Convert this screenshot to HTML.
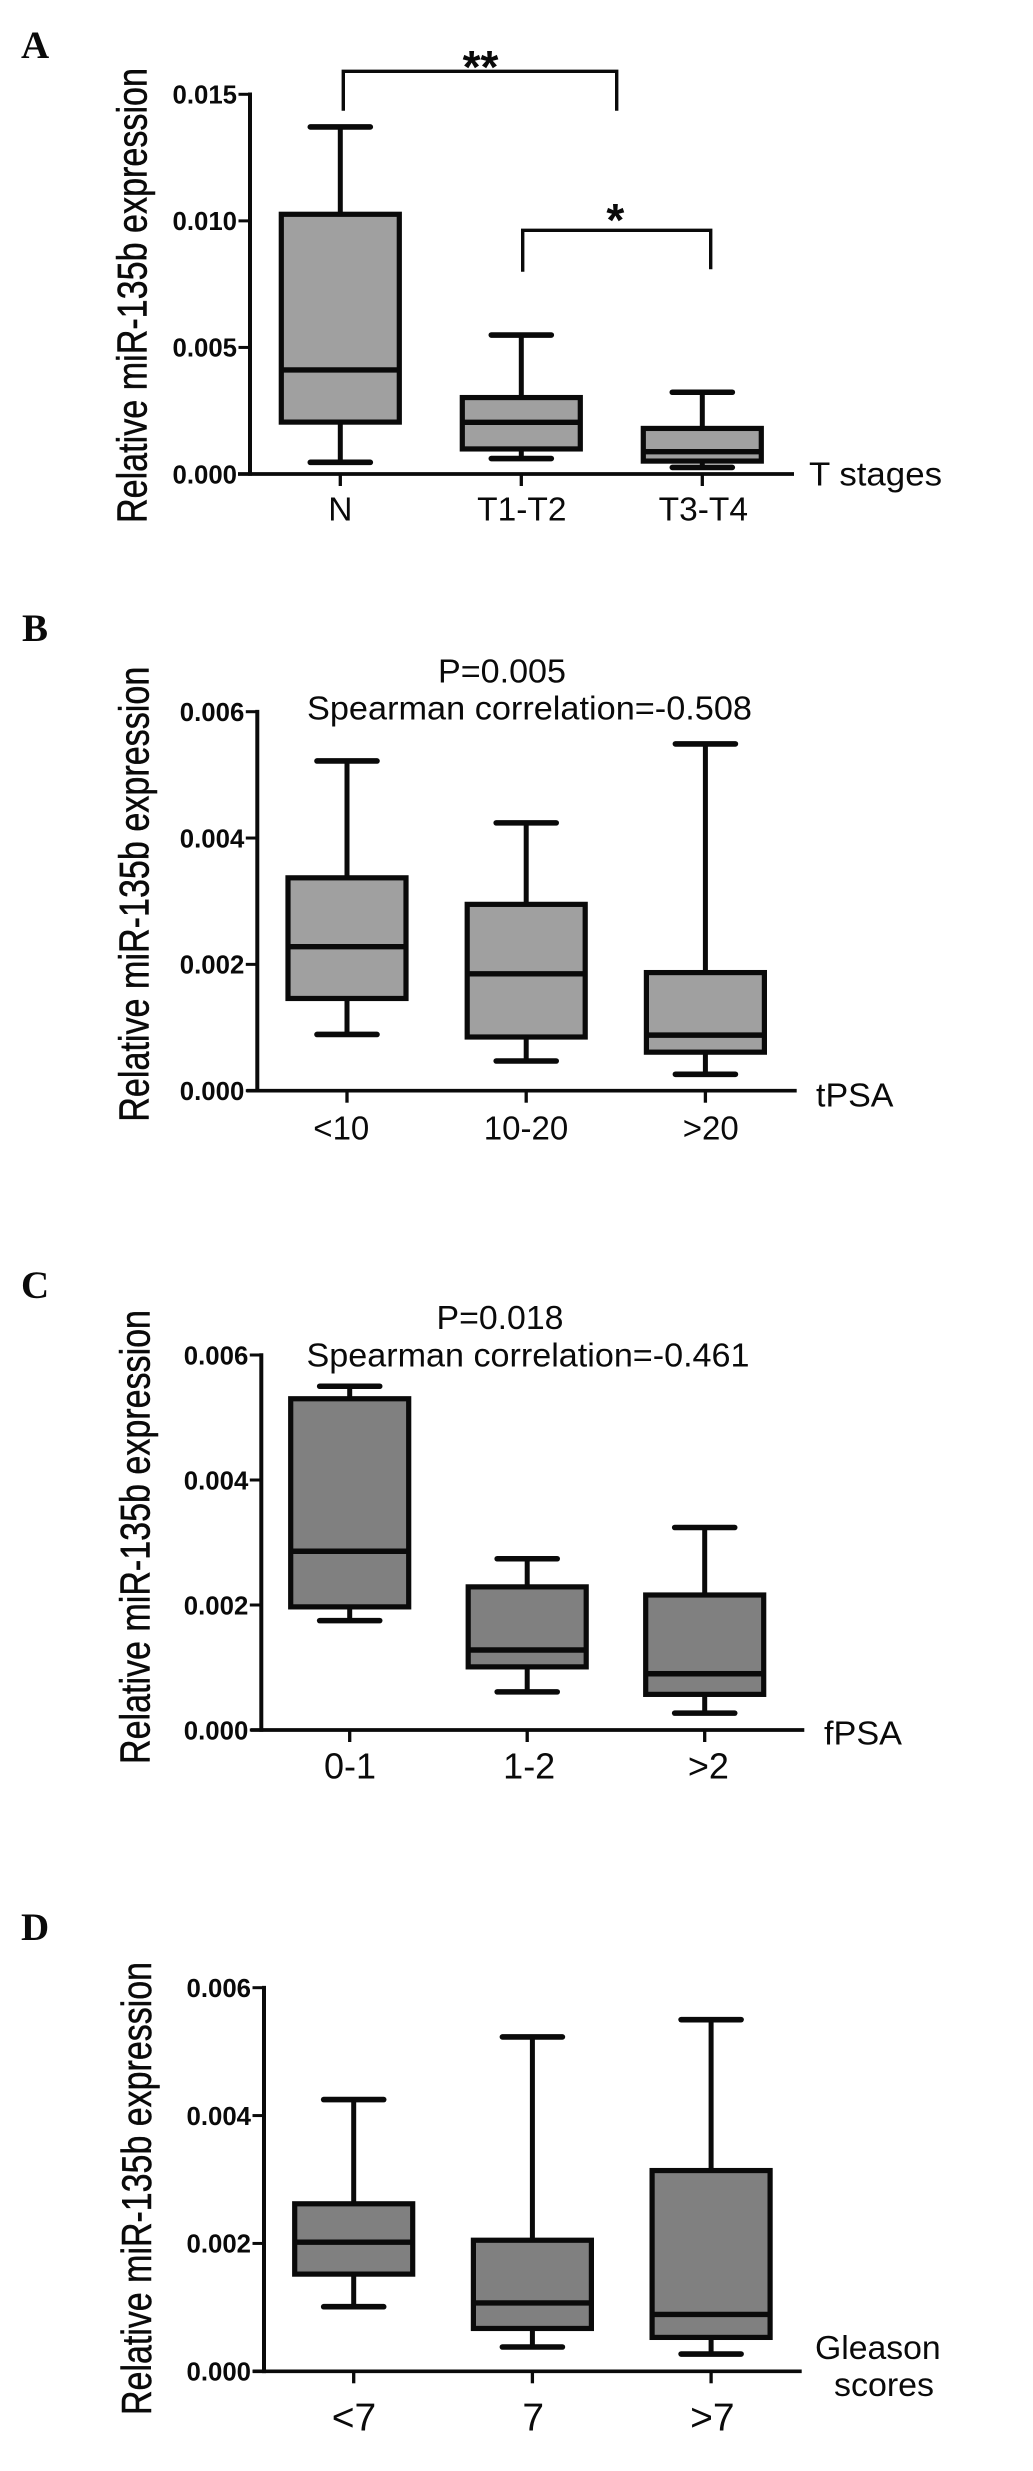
<!DOCTYPE html>
<html lang="en">
<head>
<meta charset="utf-8">
<title>Relative miR-135b expression box plots</title>
<style>
html,body{margin:0;padding:0;background:#fff;}
svg{display:block;}
text{font-family:"Liberation Sans",Arial,sans-serif;fill:#0a0a0a;}
.letter{font-family:"Liberation Serif","Times New Roman",serif;font-weight:bold;font-size:39px;}
.ytitle{font-size:42px;stroke:#0a0a0a;stroke-width:0.5px;}
.note{font-size:33.7px;}
.stars{font-size:46px;font-weight:bold;}
</style>
</head>
<body>
<svg id="figure" xmlns="http://www.w3.org/2000/svg" width="1033" height="2471" viewBox="0 0 1033 2471">
  <rect width="1033" height="2471" fill="#fff"/>

  <text class="letter" x="21" y="58">A</text>
  <text class="letter" x="22" y="641">B</text>
  <text class="letter" x="21" y="1298">C</text>
  <text class="letter" x="21" y="1940">D</text>

  <text class="ytitle" transform="translate(146.7,523) rotate(-90)" textLength="455" lengthAdjust="spacingAndGlyphs">Relative miR-135b expression</text>
  <text class="ytitle" transform="translate(148.3,1121.7) rotate(-90)" textLength="455" lengthAdjust="spacingAndGlyphs">Relative miR-135b expression</text>
  <text class="ytitle" transform="translate(149.3,1764) rotate(-90)" textLength="454" lengthAdjust="spacingAndGlyphs">Relative miR-135b expression</text>
  <text class="ytitle" transform="translate(151,2415) rotate(-90)" textLength="453" lengthAdjust="spacingAndGlyphs">Relative miR-135b expression</text>

  <text class="note" x="809" y="485.7" textLength="133" lengthAdjust="spacingAndGlyphs">T stages</text>
  <text class="note" x="816" y="1106.7" textLength="77.5" lengthAdjust="spacingAndGlyphs">tPSA</text>
  <text class="note" x="824" y="1744.3" textLength="78" lengthAdjust="spacingAndGlyphs">fPSA</text>
  <text class="note" x="815" y="2359" textLength="125.7" lengthAdjust="spacingAndGlyphs">Gleason</text>
  <text class="note" x="834" y="2396" textLength="100" lengthAdjust="spacingAndGlyphs">scores</text>

  <text class="note" x="438" y="682.3" textLength="128" lengthAdjust="spacingAndGlyphs">P=0.005</text>
  <text class="note" x="307" y="719.3" textLength="445" lengthAdjust="spacingAndGlyphs">Spearman correlation=-0.508</text>
  <text class="note" x="436.5" y="1329" textLength="127" lengthAdjust="spacingAndGlyphs">P=0.018</text>
  <text class="note" x="306.5" y="1366.7" textLength="443" lengthAdjust="spacingAndGlyphs">Spearman correlation=-0.461</text>

  <path d="M343.3 110.7V71.3H616.7V110.7" fill="none" stroke="#0a0a0a" stroke-width="3.4"/>
  <text class="stars" x="480.5" y="83" text-anchor="middle">**</text>
  <path d="M522.7 271.7V230.3H710.7V269.3" fill="none" stroke="#0a0a0a" stroke-width="3.4"/>
  <text class="stars" x="615.3" y="236" text-anchor="middle">*</text>
</svg>

<script>
// Panel A: T stages
const aCategories = ['N', 'T1-T2', 'T3-T4'];
const aWhiskerHigh = [0.01371, 0.00549, 0.00323];
const aBoxTop = [0.01026, 0.00302, 0.0018];
const aMedian = [0.00411, 0.00204, 0.00088];
const aBoxBottom = [0.00205, 0.00099, 0.00051];
const aWhiskerLow = [0.00046, 0.00061, 0.00026];
const aTickValues = [0, 0.005, 0.010, 0.015];
const aTickLabels = ['0.000', '0.005', '0.010', '0.015'];

// Panel B: tPSA
const bCategories = ['<10', '10-20', '>20'];
const bWhiskerHigh = [0.00522, 0.00424, 0.00549];
const bBoxTop = [0.00337, 0.00295, 0.00187];
const bMedian = [0.00228, 0.00185, 0.00088];
const bBoxBottom = [0.00146, 0.00085, 0.00061];
const bWhiskerLow = [0.00089, 0.00047, 0.00026];

// Panel C: fPSA
const cCategories = ['0-1', '1-2', '>2'];
const cWhiskerHigh = [0.0055, 0.00274, 0.00324];
const cBoxTop = [0.0053, 0.00229, 0.00216];
const cMedian = [0.00286, 0.00128, 0.0009];
const cBoxBottom = [0.00197, 0.00101, 0.00057];
const cWhiskerLow = [0.00175, 0.00061, 0.00027];

// Panel D: Gleason scores
const dCategories = ['<7', '7', '>7'];
const dWhiskerHigh = [0.00425, 0.00523, 0.0055];
const dBoxTop = [0.00262, 0.00205, 0.00314];
const dMedian = [0.00202, 0.00107, 0.00089];
const dBoxBottom = [0.00152, 0.00067, 0.00053];
const dWhiskerLow = [0.00101, 0.00038, 0.00027];

// Shared y axis for panels B, C and D
const smallTickValues = [0, 0.002, 0.004, 0.006];
const smallTickLabels = ['0.000', '0.002', '0.004', '0.006'];

const SVG_NS = 'http://www.w3.org/2000/svg';
const figure = document.getElementById('figure');
const INK = '#0a0a0a';

function make(tag, attrs, parent) {
  const el = document.createElementNS(SVG_NS, tag);
  for (const key in attrs) el.setAttribute(key, attrs[key]);
  parent.appendChild(el);
  return el;
}

function line(x1, y1, x2, y2, width, parent) {
  return make('line', { x1, y1, x2, y2, stroke: INK, 'stroke-width': width }, parent);
}

function drawPanel(p) {
  const yScale = v => p.yZero - (v / p.yMax) * (p.yZero - p.yTop);
  const xScale = i => p.x0 + i * p.xStep;
  const labelX = i => p.labelX0 + i * p.labelStep;

  const group = make('g', {}, figure);
  
  

  // Axes
  const yAxis = line(p.axisX, p.yTop - 1.8, p.axisX, p.yZero + 1.8, 4, group);
  
  

  const xAxis = line(p.xAxisStart, p.yZero, p.xAxisEnd, p.yZero, 3.7, group);
  
  

  // Boxes and whiskers
  p.categories.forEach((cat, i) => {
    const cx = xScale(i);
    const boxGroup = make('g', {}, group);
    
    

    const stem = line(cx, yScale(p.whiskerHigh[i]), cx, yScale(p.whiskerLow[i]), 5, boxGroup);
    
    

    const capHigh = line(cx - 30, yScale(p.whiskerHigh[i]), cx + 30, yScale(p.whiskerHigh[i]), 5.6, boxGroup);
    
    
    capHigh.setAttribute('stroke-linecap', 'round');

    const capLow = line(cx - 30, yScale(p.whiskerLow[i]), cx + 30, yScale(p.whiskerLow[i]), 5.6, boxGroup);
    
    
    capLow.setAttribute('stroke-linecap', 'round');

    const top = yScale(p.boxTop[i]);
    const bottom = yScale(p.boxBottom[i]);
    const rect = make('rect', {
      x: cx - 59, y: top, width: 118, height: bottom - top,
      fill: p.fill, stroke: INK, 'stroke-width': 5.2
    }, boxGroup);
    
    

    const median = line(cx - 59, yScale(p.median[i]), cx + 59, yScale(p.median[i]), 5.4, boxGroup);
    
    

    const tick = line(cx, p.yZero, cx, p.yZero + 12, 3.3, group);
    
    

    const label = make('text', {
      x: labelX(i), y: p.labelY, 'text-anchor': 'middle', 'font-size': p.labelSize
    }, group);
    label.textContent = cat;
    
    
  });

  p.tickValues.forEach((value, i) => {
    const y = yScale(value);
    const tick = line(p.axisX - 11.5, y, p.axisX, y, 3, group);
    
    

    const label = make('text', {
      x: p.axisX - 13, y: y + 9.3, 'text-anchor': 'end', 'font-size': 26, 'font-weight': 'bold',
      textLength: 64.5, lengthAdjust: 'spacingAndGlyphs'
    }, group);
    label.textContent = p.tickLabels[i];
    
    
  });
}

drawPanel({
  id: 'a', categories: aCategories, whiskerHigh: aWhiskerHigh, boxTop: aBoxTop, median: aMedian,
  boxBottom: aBoxBottom, whiskerLow: aWhiskerLow, tickValues: aTickValues, tickLabels: aTickLabels,
  yMax: 0.015, yZero: 474, yTop: 94.3, axisX: 250, xAxisStart: 238, xAxisEnd: 794,
  x0: 340.3, xStep: 181, labelX0: 340.3, labelStep: 181.5, labelY: 520.7, labelSize: 33.5, fill: '#a0a0a0'
});
drawPanel({
  id: 'b', categories: bCategories, whiskerHigh: bWhiskerHigh, boxTop: bBoxTop, median: bMedian,
  boxBottom: bBoxBottom, whiskerLow: bWhiskerLow, tickValues: smallTickValues, tickLabels: smallTickLabels,
  yMax: 0.006, yZero: 1090.7, yTop: 711.7, axisX: 257.3, xAxisStart: 246.7, xAxisEnd: 796.7,
  x0: 347, xStep: 179.2, labelX0: 341.3, labelStep: 184.7, labelY: 1139.6, labelSize: 33, fill: '#a0a0a0'
});
drawPanel({
  id: 'c', categories: cCategories, whiskerHigh: cWhiskerHigh, boxTop: cBoxTop, median: cMedian,
  boxBottom: cBoxBottom, whiskerLow: cWhiskerLow, tickValues: smallTickValues, tickLabels: smallTickLabels,
  yMax: 0.006, yZero: 1730, yTop: 1355, axisX: 261.3, xAxisStart: 250.7, xAxisEnd: 804.3,
  x0: 349.7, xStep: 177.5, labelX0: 350, labelStep: 179.2, labelY: 1778.3, labelSize: 36, fill: '#808080'
});
drawPanel({
  id: 'd', categories: dCategories, whiskerHigh: dWhiskerHigh, boxTop: dBoxTop, median: dMedian,
  boxBottom: dBoxBottom, whiskerLow: dWhiskerLow, tickValues: smallTickValues, tickLabels: smallTickLabels,
  yMax: 0.006, yZero: 2371.3, yTop: 1987.7, axisX: 264, xAxisStart: 252.7, xAxisEnd: 801.7,
  x0: 353.7, xStep: 178.7, labelX0: 354, labelStep: 179.2, labelY: 2430.7, labelSize: 39, fill: '#808080'
});
</script>
</body>
</html>
